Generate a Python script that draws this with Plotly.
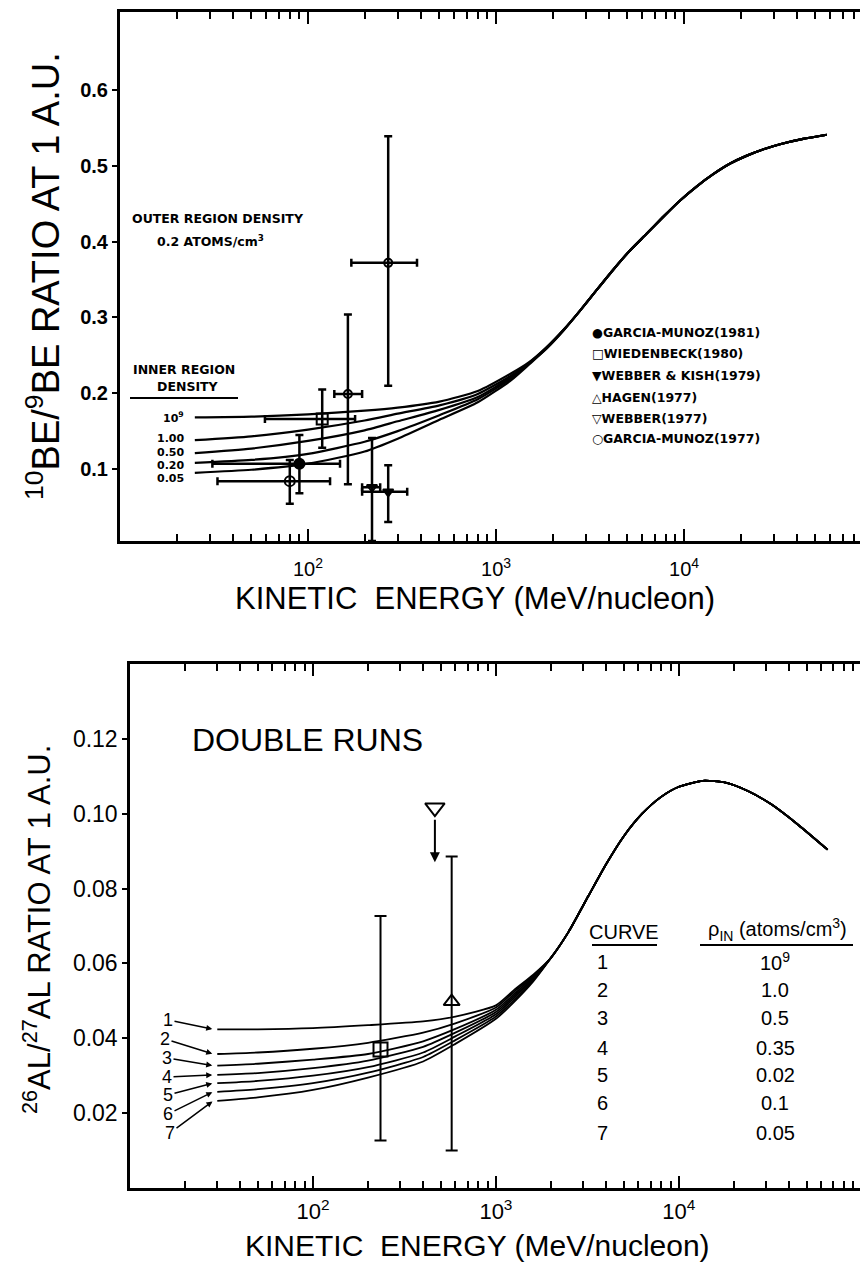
import math
import plotly.graph_objects as go

W, H = 860, 1264

# ---------------- top panel data (10Be/9Be) ----------------
be_energy_low = [25, 50, 100, 200, 300, 500, 800, 1200, 1500, 1860, 2300]
be_curve_labels = ["10<sup>9</sup>", "1.00", "0.50", "0.20", "0.05"]
be_curves_low = [
    [0.168, 0.169, 0.172, 0.177, 0.181, 0.189, 0.203, 0.226, 0.2410, 0.2610, 0.2845],
    [0.138, 0.143, 0.152, 0.164, 0.173, 0.184, 0.199, 0.223, 0.2400, 0.2605, 0.2843],
    [0.121, 0.127, 0.137, 0.151, 0.163, 0.178, 0.195, 0.221, 0.2395, 0.2600, 0.2840],
    [0.108, 0.112, 0.120, 0.136, 0.150, 0.171, 0.192, 0.219, 0.2390, 0.2595, 0.2838],
    [0.095, 0.099, 0.107, 0.123, 0.140, 0.165, 0.188, 0.217, 0.2380, 0.2590, 0.2835],
]
be_energy_high = [2800, 3400, 4170, 5100, 6300, 7700, 9500, 11700,
                  14300, 17600, 21600, 27000, 32400, 43000, 57500]
be_curve_high = [0.309, 0.335, 0.362, 0.387, 0.410, 0.432, 0.454, 0.473,
                 0.489, 0.503, 0.5135, 0.5225, 0.5285, 0.5355, 0.541]

# data points: energy, ratio, x-low, x-high, y-low, y-high
be_pts_name = ["GARCIA-MUNOZ (1977)", "GARCIA-MUNOZ (1981)", "WIEDENBECK (1980)",
               "HAGEN (1977)", "HAGEN (1977) b", "WEBBER (1977)", "WEBBER & KISH (1979)"]
be_pts_E = [80, 90, 119, 163, 267, 219, 267]
be_pts_R = [0.084, 0.107, 0.166, 0.199, 0.372, 0.076, 0.070]
be_pts_Elo = [33, 31, 59, 138, 170, 194, 194]
be_pts_Ehi = [131, 148, 178, 194, 380, 242, 337]
be_pts_Rlo = [0.054, 0.068, 0.128, 0.080, 0.210, 0.005, 0.030]
be_pts_Rhi = [0.112, 0.145, 0.205, 0.304, 0.539, 0.141, 0.105]
be_pts_symbol = ["circle-open", "circle", "square-open", "circle-open", "circle-open",
                 "triangle-down-open", "triangle-down"]
be_pts_size = [10, 10, 11, 8, 8, 9, 9]

be_legend = ["\u25cfGARCIA-MUNOZ(1981)", "\u25a1WIEDENBECK(1980)", "\u25bcWEBBER & KISH(1979)",
             "\u25b3HAGEN(1977)", "\u25bdWEBBER(1977)", "\u25cbGARCIA-MUNOZ(1977)"]

# ---------------- bottom panel data (26Al/27Al) ----------------
al_energy_low = [30, 50, 100, 200, 400, 600, 1000, 1250, 1600]
al_curves_low = [
    [0.0424, 0.0424, 0.0427, 0.0435, 0.0445, 0.0458, 0.0488, 0.0528, 0.0570],
    [0.0358, 0.0362, 0.0372, 0.0388, 0.0415, 0.0440, 0.0482, 0.0523, 0.0567],
    [0.0327, 0.0332, 0.0343, 0.0358, 0.0392, 0.0425, 0.0476, 0.0517, 0.0564],
    [0.0302, 0.0307, 0.0320, 0.0340, 0.0377, 0.0415, 0.0470, 0.0512, 0.0561],
    [0.0280, 0.0286, 0.0300, 0.0323, 0.0362, 0.0405, 0.0464, 0.0507, 0.0558],
    [0.0257, 0.0264, 0.0280, 0.0308, 0.0350, 0.0395, 0.0458, 0.0501, 0.0555],
    [0.0233, 0.0242, 0.0262, 0.0295, 0.0338, 0.0385, 0.0452, 0.0496, 0.0552],
]
al_energy_high = [2000, 2500, 3200, 4000, 5000, 6300, 8000, 10000, 13500, 18000, 24000,
                  32000, 45000, 65000]
al_curve_high = [0.0615, 0.0685, 0.0780, 0.0865, 0.0940, 0.1000, 0.1045, 0.1072, 0.1088,
                 0.1083, 0.1060, 0.1025, 0.0970, 0.0904]
al_curve_numbers = ["1", "2", "3", "4", "5", "6", "7"]
al_rho_values = ["10<sup>9</sup>", "1.0", "0.5", "0.35", "0.02", "0.1", "0.05"]

al_pts_E = [234, 573]
al_pts_R = [0.0370, 0.0498]
al_pts_Rlo = [0.0127, 0.0100]
al_pts_Rhi = [0.0727, 0.0886]
al_pts_symbol = ["square-open", "triangle-up-open"]
al_limit_E = 464
al_limit_R = 0.1016
al_limit_to = 0.087

x_major = [100, 1000, 10000]
x_major_text = ["10<sup>2</sup>", "10<sup>3</sup>", "10<sup>4</sup>"]
x_minor = [m * d for d in (10, 100, 1000, 10000) for m in range(2, 10)]
be_yticks = [0.1, 0.2, 0.3, 0.4, 0.5, 0.6]
al_yticks = [0.02, 0.04, 0.06, 0.08, 0.10, 0.12]

FONT = "Liberation Sans, Arial, DejaVu Sans, sans-serif"
SMALL = "DejaVu Sans, Liberation Sans, sans-serif"


def px(x):
    return x / W


def py(y):
    return 1 - y / H


fig = go.Figure()

# top curves
for c in be_curves_low:
    fig.add_trace(go.Scatter(x=be_energy_low + be_energy_high, y=c + be_curve_high,
                             mode="lines", line=dict(color="black", width=2.2, shape="spline", smoothing=0.6),
                             xaxis="x", yaxis="y", showlegend=False, hoverinfo="skip"))

for i in range(len(be_pts_E)):
    fig.add_trace(go.Scatter(
        x=[be_pts_E[i]], y=[be_pts_R[i]], mode="markers", xaxis="x", yaxis="y", showlegend=False,
        name=be_pts_name[i],
        marker=dict(symbol=be_pts_symbol[i], size=be_pts_size[i], color="black",
                    line=dict(color="black", width=2)),
        error_x=dict(type="data", symmetric=False, array=[be_pts_Ehi[i] - be_pts_E[i]],
                     arrayminus=[be_pts_E[i] - be_pts_Elo[i]], color="black", thickness=2.5, width=4),
        error_y=dict(type="data", symmetric=False, array=[be_pts_Rhi[i] - be_pts_R[i]],
                     arrayminus=[be_pts_R[i] - be_pts_Rlo[i]], color="black", thickness=2.5, width=4),
    ))

# bottom curves
for c in al_curves_low:
    fig.add_trace(go.Scatter(x=al_energy_low + al_energy_high, y=c + al_curve_high,
                             mode="lines", line=dict(color="black", width=1.8, shape="spline", smoothing=0.6),
                             xaxis="x2", yaxis="y2", showlegend=False, hoverinfo="skip"))

for i in range(len(al_pts_E)):
    fig.add_trace(go.Scatter(
        x=[al_pts_E[i]], y=[al_pts_R[i]], mode="markers", xaxis="x2", yaxis="y2", showlegend=False,
        marker=dict(symbol=al_pts_symbol[i], size=14, color="black", line=dict(color="black", width=2)),
        error_y=dict(type="data", symmetric=False, array=[al_pts_Rhi[i] - al_pts_R[i]],
                     arrayminus=[al_pts_R[i] - al_pts_Rlo[i]], color="black", thickness=2, width=6),
    ))
fig.add_trace(go.Scatter(x=[al_limit_E], y=[al_limit_R], mode="markers", xaxis="x2", yaxis="y2",
                         showlegend=False,
                         marker=dict(symbol="triangle-down-open", size=17, color="black",
                                     line=dict(color="black", width=2))))

axis_common = dict(showgrid=False, zeroline=False, showline=True, linecolor="black",
                   tickcolor="black", color="black")

fig.update_layout(
    width=W, height=H, margin=dict(l=0, r=0, t=0, b=0),
    paper_bgcolor="white", plot_bgcolor="white",
    font=dict(family=FONT, color="black"),
    xaxis=dict(type="log", range=[1, 4.936], domain=[px(120), 1], anchor="y",
               linewidth=3, mirror="ticks", ticks="inside", ticklen=12, tickwidth=2,
               tickvals=x_major, ticktext=x_major_text, tickfont=dict(size=20),
               ticklabelstandoff=8,
               minor=dict(ticks="inside", ticklen=7, tickwidth=2, tickvals=x_minor, tickcolor="black"),
               **axis_common),
    yaxis=dict(range=[0.005, 0.703], domain=[py(541), py(12)], anchor="x",
               linewidth=3, ticks="outside", ticklen=5, tickwidth=2,
               tickvals=be_yticks, ticktext=["<b>0.1</b>", "<b>0.2</b>", "<b>0.3</b>", "<b>0.4</b>",
                                             "<b>0.5</b>", "<b>0.6</b>"],
               tickfont=dict(size=20), **axis_common),
    xaxis2=dict(type="log", range=[1, 4.99], domain=[px(130), 1], anchor="y2",
                linewidth=2.5, mirror="ticks", ticks="inside", ticklen=12, tickwidth=2,
                tickvals=x_major, ticktext=x_major_text, tickfont=dict(size=22),
                ticklabelstandoff=2,
                minor=dict(ticks="inside", ticklen=7, tickwidth=2, tickvals=x_minor, tickcolor="black"),
                **axis_common),
    yaxis2=dict(range=[0, 0.14], domain=[py(1188), py(664)], anchor="x2",
                linewidth=2.5, ticks="outside", ticklen=5, tickwidth=2,
                tickvals=al_yticks, ticktext=["0.02", "0.04", "0.06", "0.08", "0.10", "0.12"],
                tickfont=dict(size=23), **axis_common),
)

ann = []


def text(x, y, s, size, xanchor="center", bold=False, angle=0, family=FONT):
    ann.append(dict(x=px(x), y=py(y), xref="paper", yref="paper", text=(f"<b>{s}</b>" if bold else s),
                    showarrow=False, xanchor=xanchor, yanchor="middle", textangle=angle,
                    font=dict(size=size, family=family, color="black")))


# top panel texts
text(43, 276, "<sup>10</sup>BE/<sup>9</sup>BE RATIO AT 1 A.U.", 38, angle=-90)
text(475, 598, "KINETIC\u00a0\u00a0ENERGY (MeV/nucleon)", 31)
text(130, 218, "OUTER REGION DENSITY", 12.5, "left", True, family=SMALL)
text(155, 241, "0.2 ATOMS/cm<sup>3</sup>", 12.5, "left", True, family=SMALL)
text(131, 369, "INNER REGION", 12.5, "left", True, family=SMALL)
text(155, 387, "DENSITY", 12.5, "left", True, family=SMALL)
label_y = [417, 439, 452, 465, 478]
for lab, yy in zip(be_curve_labels, label_y):
    text(186, yy, lab, 11, "right", True, family=SMALL)
for k, s in enumerate(be_legend):
    text(590, [332, 353, 375, 397, 418, 438][k], s, 12.5, "left", True, family=SMALL)

# bottom panel texts
text(37, 930, "<sup>26</sup>AL/<sup>27</sup>AL RATIO AT 1 A.U.", 31, angle=-90)
text(477, 1245, "KINETIC\u00a0\u00a0ENERGY (MeV/nucleon)", 30)
text(190, 740, "DOUBLE RUNS", 32, "left")
text(624, 932, "CURVE", 20)
text(777, 929, "\u03c1<sub>IN</sub> (atoms/cm<sup>3</sup>)", 20)
row_y = [962, 990, 1018, 1048, 1075, 1103, 1133]
for n, v, yy in zip(al_curve_numbers, al_rho_values, row_y):
    text(602, yy, n, 20)
    text(775, yy, v, 20)

# curve number labels with arrows to curve starts
lab_pos = [(168, 1020), (165, 1039), (167, 1058), (167, 1077), (168, 1095), (168, 1114), (170, 1133)]
x_head = math.log10(al_energy_low[0] * 0.95)
x_head_px = 130 + (x_head - 1) / 3.99 * (860 - 130)
for k, (lx, ly) in enumerate(lab_pos):
    y0 = al_curves_low[k][0]
    ypix = 1188 - y0 / 0.14 * (1188 - 664)
    ann.append(dict(x=x_head, y=y0, xref="x2", yref="y2", text=al_curve_numbers[k],
                    showarrow=True, arrowhead=2, arrowsize=0.8, arrowwidth=1.5, arrowcolor="black",
                    ax=lx - x_head_px, ay=ly - ypix, standoff=1,
                    font=dict(size=18, family=FONT, color="black")))

# upper-limit arrow
ann.append(dict(x=math.log10(al_limit_E), y=al_limit_to, xref="x2", yref="y2", text="", showarrow=True,
                arrowhead=2, arrowsize=1, arrowwidth=2, arrowcolor="black", ax=0, ay=-44,
                standoff=0))

fig.update_layout(annotations=ann)

shapes = [
    dict(type="line", xref="paper", yref="paper", x0=px(130), x1=px(238), y0=py(398), y1=py(398),
         line=dict(color="black", width=2)),
    dict(type="line", xref="paper", yref="paper", x0=px(592), x1=px(657), y0=py(945), y1=py(945),
         line=dict(color="black", width=2)),
    dict(type="line", xref="paper", yref="paper", x0=px(700), x1=px(853), y0=py(945), y1=py(945),
         line=dict(color="black", width=2)),
]
fig.update_layout(shapes=shapes)

fig.write_html("out.html", config={"displayModeBar": False},
               post_script="document.body.style.margin='0';")
